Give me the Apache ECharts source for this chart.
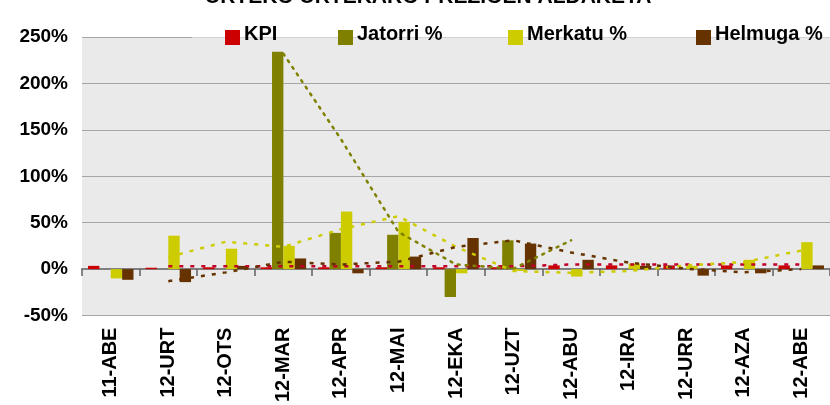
<!DOCTYPE html>
<html>
<head>
<meta charset="utf-8">
<script src="https://cdn.jsdelivr.net/npm/echarts@6/dist/echarts.min.js"></script>
<style>html,body{margin:0;padding:0;background:#fff;}#c{width:830px;height:405px;}</style>
</head>
<body>
<div id="c"></div>
<script>
var titleText = 'URTEKO URTEKARO PREZIOEN ALDAKETA';
var categories = ['11-ABE','12-URT','12-OTS','12-MAR','12-APR','12-MAI','12-EKA','12-UZT','12-ABU','12-IRA','12-URR','12-AZA','12-ABE'];
var seriesNames = ['KPI','Jatorri %','Merkatu %','Helmuga %'];
var kpi      = [3.5, 1.5, 2, 2, 2, 2, 2, 2, 4, 4, 4, 4, 4];
var jatorri  = [null, null, null, 234, 39, 37, -30, 31, null, null, null, null, null];
var merkatu  = [-10, 36, 22, 25, 62, 51, -4.5, -2, -8, 6, 3.5, 10, 29];
var helmuga  = [-11.5, -14, 3.5, 11.5, -4.5, 13.5, 33.5, 27.5, 10, 3.5, -7, -4.5, 4];
// trend lines
var kpiTrend     = [null, 3, 3, 3, 3, 3, 3, 3, 5, 5, 5, 5, 5];
var jatorriTrend = [null, null, null, 232, 140, 40, 5, 0.5, 31, null, null, null, null];
var merkatuTrend = [null, 13, 29.5, 24, 43, 57, 24, -2, -4, -2, 4, 7.5, 20];
var helmugaTrend = [null, -13, -3.5, 8, 5, 8, 24, 31, 18, 7, 0.5, -3.5, 0];
var yTicks = {min: -50, max: 250, interval: 50};

var colors = ['#cc0000', '#808000', '#cccc00', '#663300'];
var trendColors = ['#c00028', '#808000', '#cccc00', '#663300'];
var font = '"Liberation Sans", Arial, sans-serif';

var chart = echarts.init(document.getElementById('c'), null, {renderer: 'canvas'});

var barData = [kpi, jatorri, merkatu, helmuga];
var trendData = [kpiTrend, jatorriTrend, merkatuTrend, helmugaTrend];
var series = [];
for (var i = 0; i < 4; i++) {
  series.push({
    name: seriesNames[i], type: 'bar', data: barData[i],
    barGap: '0%', barCategoryGap: '21%',
    itemStyle: {color: colors[i]}, z: 2
  });
}
for (var j = 0; j < 4; j++) {
  series.push({
    name: 'trend' + j, type: 'line', data: trendData[j],
    symbol: 'none', smooth: false, connectNulls: false,
    lineStyle: {color: trendColors[j], width: 2.5, type: j === 1 ? [2, 6] : [4, 7], cap: j === 1 ? 'round' : 'butt'},
    z: 3, silent: true
  });
}

var legendLefts = [225, 338, 508, 696];
var legends = seriesNames.map(function (n, k) {
  return {
    data: [n], left: legendLefts[k], top: 24, padding: 0, orient: 'horizontal',
    icon: 'rect', itemWidth: 15, itemHeight: 15, itemGap: 4,
    formatter: '{t|{name}}',
    textStyle: {
      fontFamily: font, fontWeight: 'bold', fontSize: 20, color: '#000',
      rich: {t: {fontFamily: font, fontWeight: 'bold', fontSize: 20, color: '#000', padding: [0, 0, 7, -1]}}
    },
    z: 10, selectedMode: false
  };
});

chart.setOption({
  animation: false,
  backgroundColor: '#fff',
  title: {
    text: titleText, left: 200, top: -18, padding: 5,
    textStyle: {fontFamily: font, fontWeight: 'bold', fontSize: 21, color: '#000'}
  },
  legend: legends,
  graphic: [{type: 'rect', shape: {x: 192, y: 0, width: 650, height: 37.5}, style: {fill: '#fff'}, z: 5, silent: true}],
  grid: {left: 82, top: 37, width: 757, bottom: 87, show: true, backgroundColor: '#eaeaea', borderWidth: 0, containLabel: false},
  xAxis: [{
    type: 'category', data: categories, position: 'bottom',
    axisLine: {show: false, onZero: false}, axisTick: {show: false},
    axisLabel: {rotate: 90, margin: 12, fontFamily: font, fontWeight: 'bold', fontSize: 20, color: '#000', interval: 0}
  }, {
    type: 'category', data: categories, position: 'top',
    axisLine: {show: true, onZero: true, lineStyle: {color: '#808080', width: 2}},
    axisTick: {show: true, inside: true, length: 7, lineStyle: {color: '#606060', width: 1.5}, interval: 0},
    axisLabel: {show: false}, boundaryGap: true
  }],
  yAxis: {
    type: 'value', min: yTicks.min, max: yTicks.max, interval: yTicks.interval,
    axisLine: {show: false}, axisTick: {show: false},
    splitLine: {show: true, lineStyle: {color: '#a6a6a6', width: 1}},
    axisLabel: {formatter: '{value}%', margin: 14, fontFamily: font, fontWeight: 'bold', fontSize: 19, color: '#000'}
  },
  series: series
});
</script>
</body>
</html>
